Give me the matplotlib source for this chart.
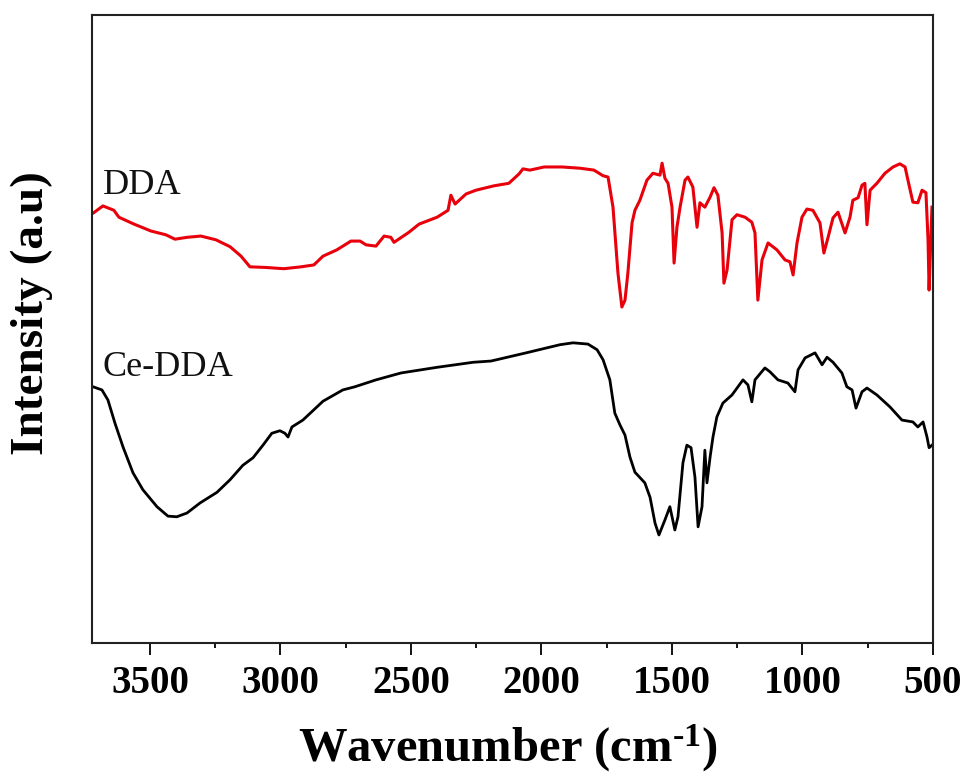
import matplotlib
matplotlib.use("Agg")
import matplotlib.pyplot as plt
from matplotlib.ticker import MultipleLocator

# FTIR spectra (wavenumber in cm^-1, intensity in arbitrary units)
dda_wn = [3716, 3680, 3638, 3619, 3561, 3496, 3439, 3404, 3358, 3305, 3247, 3193,
          3151, 3117, 3056, 2987, 2921, 2872, 2837, 2784, 2730, 2695, 2672, 2634,
          2603, 2577, 2565, 2508, 2469, 2400, 2358, 2347, 2331, 2289, 2251, 2182,
          2125, 2086, 2071, 2044, 1990, 1921, 1852, 1799, 1764, 1745, 1726, 1707,
          1692, 1680, 1669, 1653, 1642, 1623, 1596, 1573, 1546, 1538, 1527, 1515,
          1500, 1492, 1481, 1469, 1450, 1439, 1420, 1404, 1393, 1374, 1354, 1339,
          1324, 1308, 1301, 1289, 1270, 1251, 1220, 1194, 1182, 1171, 1155, 1132,
          1098, 1067, 1048, 1036, 1021, 1002, 983, 960, 933, 918, 902, 883, 864,
          837, 818, 807, 787, 772, 761, 753, 741, 715, 684, 653, 627, 607, 596,
          577, 558, 542, 527, 519, 515, 504]
dda_int = [68.5, 69.6, 68.9, 67.8, 66.7, 65.6, 65.0, 64.3, 64.6, 64.8, 64.2, 63.1,
           61.6, 59.9, 59.8, 59.6, 59.9, 60.2, 61.6, 62.6, 64.0, 64.0, 63.4, 63.2,
           64.8, 64.6, 63.8, 65.4, 66.7, 67.8, 68.9, 71.3, 69.9, 71.5, 72.1, 72.8,
           73.2, 74.7, 75.5, 75.3, 75.8, 75.8, 75.6, 75.3, 74.4, 74.2, 69.4, 58.9,
           53.5, 54.6, 58.9, 66.9, 68.9, 70.5, 73.7, 74.8, 74.5, 76.4, 74.0, 73.2,
           69.4, 60.5, 66.2, 69.4, 73.7, 74.2, 72.6, 66.2, 70.1, 69.4, 71.0, 72.5,
           71.3, 65.3, 57.3, 59.4, 67.4, 68.2, 67.8, 67.0, 65.3, 54.6, 61.0, 63.7,
           62.6, 61.0, 60.7, 58.6, 63.7, 67.8, 69.1, 68.9, 66.9, 62.1, 64.6, 67.7,
           68.6, 65.3, 67.8, 70.5, 70.9, 72.9, 73.2, 66.6, 72.1, 73.2, 74.8, 75.8,
           76.3, 75.8, 73.7, 70.2, 70.1, 72.1, 71.7, 64.2, 56.2, 69.4]

ce_wn = [3718, 3684, 3661, 3634, 3603, 3565, 3527, 3473, 3431, 3397, 3358, 3308,
         3243, 3193, 3144, 3105, 3067, 3033, 3002, 2983, 2971, 2956, 2914, 2837,
         2761, 2715, 2634, 2538, 2400, 2262, 2193, 2059, 1929, 1879, 1822, 1787,
         1764, 1738, 1719, 1699, 1680, 1661, 1642, 1604, 1584, 1565, 1550, 1527,
         1508, 1489, 1477, 1458, 1443, 1427, 1412, 1400, 1385, 1374, 1366, 1354,
         1343, 1328, 1305, 1270, 1228, 1209, 1194, 1182, 1144, 1125, 1094, 1056,
         1029, 1017, 990, 952, 925, 906, 883, 849, 830, 810, 795, 772, 753, 715,
         665, 619, 577, 558, 538, 523, 515, 504]
ce_int = [40.8, 40.3, 38.7, 35.0, 31.2, 27.1, 24.4, 21.7, 20.2, 20.1, 20.7, 22.3,
          24.0, 26.0, 28.3, 29.5, 31.5, 33.4, 33.8, 33.4, 32.8, 34.4, 35.5, 38.5,
          40.3, 40.8, 41.9, 43.0, 43.9, 44.7, 44.9, 46.2, 47.5, 47.8, 47.6, 46.7,
          45.1, 41.9, 36.6, 34.7, 33.1, 29.6, 27.2, 25.5, 23.2, 19.1, 17.2, 19.6,
          21.7, 18.0, 20.1, 28.7, 31.5, 31.1, 26.4, 18.5, 21.7, 30.7, 25.5, 29.6,
          32.8, 36.0, 38.2, 39.5, 41.9, 41.1, 38.4, 41.9, 43.8, 43.2, 41.9, 41.4,
          40.0, 43.5, 45.4, 46.2, 44.3, 45.5, 44.7, 43.0, 40.8, 40.3, 37.4, 40.0,
          40.6, 39.5, 37.6, 35.5, 35.2, 34.4, 35.2, 32.8, 31.1, 31.5]

x_ticks = [3500, 3000, 2500, 2000, 1500, 1000, 500]
series_labels = ["DDA", "Ce-DDA"]

plt.rcParams["mathtext.fontset"] = "custom"
plt.rcParams["mathtext.rm"] = "Liberation Serif:bold"
plt.rcParams["mathtext.it"] = "Liberation Serif:bold"
plt.rcParams["mathtext.bf"] = "Liberation Serif:bold"

fig = plt.figure(figsize=(9.68, 7.80), dpi=100)
ax = fig.add_axes([92 / 968, 137 / 780, 841 / 968, 628 / 780])

ax.plot(dda_wn, dda_int, color="#e8000b", lw=2.2, solid_joinstyle="round")
ax.plot(ce_wn, ce_int, color="black", lw=2.0, solid_joinstyle="round")

ax.set_xlim(3722, 500)
ax.set_ylim(0, 100)

ax.set_xticks(x_ticks)
ax.xaxis.set_minor_locator(MultipleLocator(250))
ax.tick_params(axis="x", which="major", direction="out", length=8.5, width=1.3,
               pad=7, labelsize=28, top=False)
ax.tick_params(axis="x", which="minor", direction="out", length=3.5, width=1.3,
               top=False)
ax.tick_params(axis="y", which="both", left=False, right=False, labelleft=False)
for lbl in ax.get_xticklabels():
    lbl.set_fontfamily("Liberation Serif")
    lbl.set_fontweight("bold")

for sp in ax.spines.values():
    sp.set_linewidth(1.5)
    sp.set_color("#222222")

ax.text(3680, 72.9, series_labels[0], fontsize=26, family="Liberation Serif",
        va="center", ha="left", color="#111111")
ax.text(3680, 43.8, series_labels[1], fontsize=26, family="Liberation Serif",
        va="center", ha="left", color="#111111")

fig.text(508 / 968, 1 - 748 / 780, "Wavenumber (cm$^{\u2010 1}$)", fontsize=35,
         family="Liberation Serif", fontweight="bold", ha="center", va="center")
fig.text(32 / 968, 1 - 313 / 780, "Intensity (a.u)", fontsize=34,
         family="Liberation Serif", fontweight="bold", ha="center", va="center",
         rotation=90)

fig.savefig("out.png", dpi=100)
